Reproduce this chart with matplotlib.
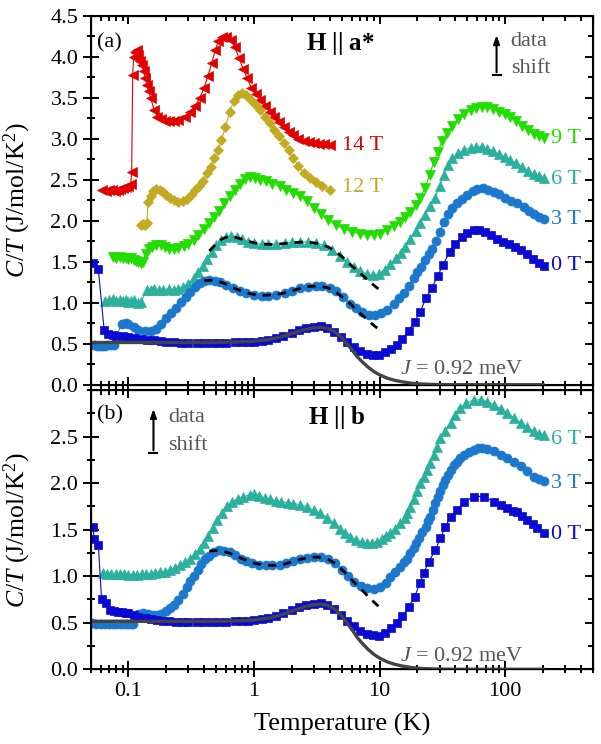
import numpy as np
import matplotlib
matplotlib.use('Agg')
import matplotlib.pyplot as plt
from matplotlib.ticker import MultipleLocator, FixedLocator, FormatStrFormatter, LogLocator, NullFormatter

plt.rcParams['font.family'] = ['Liberation Serif', 'DejaVu Serif']
plt.rcParams['mathtext.fontset'] = 'custom'
plt.rcParams['mathtext.rm'] = 'Liberation Serif'
plt.rcParams['mathtext.it'] = 'Liberation Serif:italic'
plt.rcParams['mathtext.bf'] = 'Liberation Serif:bold'

# ---- panel (a): H || a* ----
a14_T = [0.062, 0.066, 0.07, 0.074, 0.078, 0.082, 0.086, 0.09, 0.095, 0.1, 0.104, 0.106, 0.108, 0.11, 0.113,
         0.116, 0.12, 0.124, 0.128, 0.132, 0.136, 0.14, 0.145, 0.15, 0.16, 0.17, 0.18, 0.195, 0.21, 0.23, 0.25,
         0.28, 0.31, 0.34, 0.37, 0.4, 0.43, 0.46, 0.49, 0.52, 0.56, 0.6, 0.65, 0.7, 0.76, 0.82, 0.88, 0.95,
         1.03, 1.12, 1.22, 1.33, 1.45, 1.58, 1.72, 1.88, 2.05, 2.25, 2.5, 2.75, 3.0, 3.3, 3.6, 4.0]
a14_c = [2.37, 2.36, 2.37, 2.38, 2.36, 2.38, 2.39, 2.40, 2.41, 2.42, 2.45, 2.59, 3.78, 4.00, 4.06,
         4.08, 4.02, 3.95, 3.90, 3.82, 3.74, 3.66, 3.58, 3.50, 3.35, 3.27, 3.24, 3.22, 3.21, 3.21, 3.23,
         3.27, 3.33, 3.40, 3.50, 3.62, 3.77, 3.92, 4.08, 4.19, 4.24, 4.24, 4.20, 4.12, 3.98, 3.85, 3.74, 3.62,
         3.55, 3.47, 3.40, 3.33, 3.26, 3.20, 3.14, 3.08, 3.04, 3.00, 2.97, 2.955, 2.945, 2.935, 2.93, 2.925]

a12_T = [0.125, 0.13, 0.135, 0.14, 0.143, 0.15, 0.158, 0.167, 0.177, 0.188, 0.2, 0.214, 0.23, 0.25, 0.27,
         0.29, 0.315, 0.34, 0.365, 0.39, 0.42, 0.45, 0.48, 0.515, 0.55, 0.59, 0.64, 0.69, 0.74, 0.8, 0.87,
         0.95, 1.03, 1.12, 1.22, 1.33, 1.45, 1.58, 1.72, 1.88, 2.05, 2.25, 2.5, 2.8, 3.1, 3.5, 4.0]
a12_c = [1.95, 1.96, 1.95, 1.97, 2.23, 2.30, 2.36, 2.39, 2.38, 2.35, 2.31, 2.28, 2.25, 2.23, 2.24,
         2.27, 2.31, 2.37, 2.42, 2.48, 2.58, 2.66, 2.76, 2.86, 2.98, 3.14, 3.33, 3.46, 3.53, 3.56, 3.53,
         3.47, 3.41, 3.35, 3.27, 3.19, 3.11, 3.03, 2.95, 2.86, 2.76, 2.67, 2.58, 2.52, 2.47, 2.42, 2.38]

a9_T = [0.075, 0.08, 0.085, 0.09, 0.095, 0.1, 0.105, 0.11, 0.115, 0.12, 0.125, 0.13, 0.137, 0.145, 0.155,
        0.165, 0.18, 0.195, 0.21, 0.23, 0.25, 0.275, 0.3, 0.33, 0.36, 0.4, 0.44, 0.48, 0.53, 0.58, 0.64,
        0.7, 0.77, 0.85, 0.93, 1.02, 1.12, 1.25, 1.4, 1.6, 1.8, 2.05, 2.33, 2.65, 3.0, 3.4, 3.9, 4.5, 5.2,
        6.0, 7.0, 8.0, 9.0, 10, 11.4, 13, 14.6, 16, 17.6, 19.3, 21, 23, 25, 27, 29, 31.5, 34.5, 38, 42, 47,
        53, 59, 65, 72, 80, 89, 99, 110, 122, 136, 151, 168, 185, 204]
a9_c = [1.56, 1.55, 1.56, 1.54, 1.55, 1.53, 1.54, 1.52, 1.51, 1.50, 1.49, 1.50, 1.60, 1.65, 1.68,
        1.70, 1.70, 1.68, 1.66, 1.66, 1.67, 1.69, 1.72, 1.77, 1.83, 1.90, 1.97, 2.05, 2.12, 2.21, 2.30,
        2.38, 2.45, 2.51, 2.53, 2.52, 2.50, 2.48, 2.45, 2.42, 2.38, 2.34, 2.30, 2.24, 2.16, 2.08, 2.01, 1.95, 1.90,
        1.865, 1.84, 1.83, 1.826, 1.84, 1.885, 1.94, 1.99, 2.05, 2.11, 2.19, 2.28, 2.40, 2.56, 2.72, 2.84, 2.97, 3.07, 3.16, 3.24, 3.30,
        3.35, 3.38, 3.39, 3.385, 3.36, 3.33, 3.30, 3.26, 3.21, 3.16, 3.11, 3.06, 3.03, 3.005]

a6_T = [0.065, 0.07, 0.075, 0.08, 0.085, 0.09, 0.095, 0.1, 0.105, 0.11, 0.118, 0.125, 0.14, 0.15, 0.16,
        0.175, 0.19, 0.21, 0.23, 0.25, 0.27, 0.3, 0.33, 0.36, 0.39, 0.42, 0.46, 0.5, 0.55, 0.6, 0.66, 0.73,
        0.8, 0.9, 1.0, 1.15, 1.3, 1.5, 1.75, 2.0, 2.33, 2.7, 3.1, 3.6, 4.2, 4.8, 5.5, 6.2, 7.0, 7.9, 8.8,
        9.8, 11, 12.2, 13.5, 14.8, 16, 17.6, 19.3, 21, 23, 25.4, 27.5, 30, 32.5, 35, 38, 42, 47, 53, 59, 65,
        72, 80, 89, 99, 110, 122, 136, 151, 168, 185, 204]
a6_c = [1.02, 1.03, 1.04, 1.02, 1.03, 1.02, 1.03, 1.01, 1.02, 1.03, 1.00, 1.01, 1.15, 1.16, 1.17,
        1.15, 1.16, 1.17, 1.16, 1.17, 1.19, 1.23, 1.30, 1.37, 1.45, 1.53, 1.62, 1.70, 1.76, 1.80, 1.815, 1.80,
        1.78, 1.745, 1.725, 1.71, 1.71, 1.715, 1.725, 1.735, 1.74, 1.74, 1.73, 1.70, 1.64, 1.57, 1.50, 1.44, 1.39, 1.35, 1.335,
        1.35, 1.40, 1.47, 1.54, 1.61, 1.68, 1.78, 1.88, 1.97, 2.07, 2.18, 2.28, 2.42, 2.56, 2.68, 2.76, 2.82, 2.86, 2.89, 2.90, 2.90,
        2.88, 2.85, 2.81, 2.78, 2.74, 2.70, 2.66, 2.61, 2.57, 2.54, 2.517]

a3_T = [0.0535, 0.056, 0.059, 0.062, 0.065, 0.068, 0.072, 0.076, 0.088, 0.095, 0.1, 0.11, 0.12, 0.135, 0.15,
        0.165, 0.18, 0.2, 0.22, 0.24, 0.26, 0.285, 0.31, 0.34, 0.37, 0.4, 0.44, 0.49, 0.54, 0.6, 0.68, 0.77,
        0.87, 1.0, 1.15, 1.3, 1.5, 1.75, 2.0, 2.33, 2.7, 3.1, 3.5, 4.0, 4.5, 5.1, 5.8, 6.5, 7.3, 8.2, 9.2,
        10.3, 11.5, 12.9, 14.2, 15.6, 17, 18.7, 20, 21.5, 23, 24.5, 26, 28, 30, 32.5, 35, 38, 41.5, 45, 50,
        55, 60, 66, 73, 81, 90, 100, 112, 125, 140, 155, 170, 187, 204]
a3_c = [0.49, 0.475, 0.47, 0.47, 0.475, 0.48, 0.48, 0.49, 0.745, 0.75, 0.74, 0.70, 0.67, 0.65, 0.65,
        0.68, 0.74, 0.81, 0.88, 0.94, 1.01, 1.07, 1.13, 1.19, 1.235, 1.26, 1.275, 1.27, 1.255, 1.22, 1.18, 1.14,
        1.115, 1.09, 1.08, 1.085, 1.10, 1.115, 1.145, 1.175, 1.195, 1.205, 1.20, 1.175, 1.14, 1.07, 0.99, 0.93, 0.885, 0.855, 0.85,
        0.87, 0.91, 0.99, 1.06, 1.12, 1.20, 1.30, 1.38, 1.44, 1.52, 1.60, 1.66, 1.75, 1.86, 1.98, 2.08, 2.16, 2.22, 2.27, 2.31,
        2.36, 2.39, 2.395, 2.38, 2.355, 2.32, 2.28, 2.24, 2.21, 2.17, 2.12, 2.08, 2.05, 2.017]

a0_T = [0.052, 0.0575, 0.064, 0.069, 0.075, 0.08, 0.09, 0.1, 0.11, 0.125, 0.14, 0.16, 0.18, 0.2, 0.23,
        0.26, 0.3, 0.35, 0.4, 0.46, 0.53, 0.6, 0.7, 0.8, 0.9, 1.0, 1.15, 1.3, 1.5, 1.7, 2.0, 2.3, 2.6, 3.0,
        3.4, 3.8, 4.3, 4.9, 5.5, 6.2, 7.0, 7.9, 8.8, 9.8, 11, 12.3, 13.7, 15.2, 17, 19, 21, 23.5, 26, 29,
        32, 36, 40, 45, 50, 56, 62, 69, 77, 86, 96, 107, 120, 134, 150, 167, 186, 205]
a0_c = [1.48, 1.41, 0.667, 0.62, 0.61, 0.60, 0.59, 0.58, 0.57, 0.56, 0.55, 0.54, 0.53, 0.52, 0.515,
        0.51, 0.505, 0.505, 0.505, 0.51, 0.51, 0.51, 0.515, 0.515, 0.52, 0.525, 0.535, 0.55, 0.57, 0.60, 0.635, 0.665, 0.69, 0.705,
        0.71, 0.69, 0.645, 0.585, 0.52, 0.46, 0.41, 0.38, 0.365, 0.36, 0.395, 0.44, 0.49, 0.56, 0.66, 0.77, 0.89, 1.06, 1.18, 1.33,
        1.46, 1.62, 1.72, 1.80, 1.85, 1.885, 1.885, 1.866, 1.83, 1.78, 1.745, 1.71, 1.675, 1.64, 1.59, 1.53, 1.49, 1.447]

# dashed model curves on 6 T and 3 T
d6_T = [0.44, 0.5, 0.56, 0.63, 0.7, 0.8, 0.9, 1.0, 1.2, 1.4, 1.7, 2.0, 2.4, 2.8, 3.3, 3.9, 4.5, 5.2, 6.0, 7.0, 8.0, 9.2, 10.5]
d6_c = [1.63, 1.72, 1.78, 1.81, 1.80, 1.775, 1.75, 1.73, 1.715, 1.71, 1.72, 1.73, 1.74, 1.735, 1.72, 1.68, 1.62, 1.54, 1.45, 1.36, 1.28, 1.20, 1.13]
d3_T = [0.4, 0.45, 0.5, 0.56, 0.63, 0.7, 0.8, 0.9, 1.0, 1.2, 1.4, 1.7, 2.0, 2.4, 2.8, 3.3, 3.9, 4.5, 5.2, 6.0, 7.0, 8.0, 9.2, 10.5]
d3_c = [1.27, 1.275, 1.265, 1.245, 1.21, 1.175, 1.14, 1.115, 1.10, 1.09, 1.095, 1.115, 1.145, 1.18, 1.20, 1.205, 1.18, 1.13, 1.05, 0.97, 0.87, 0.79, 0.71, 0.65]

# J = 0.92 meV model (solid grey)
fit_T = [0.05, 0.1, 0.2, 0.4, 0.7, 1.0, 1.3, 1.6, 2.0, 2.5, 3.0, 3.4, 3.9, 4.4, 4.9, 5.4, 6.0, 6.6, 7.2, 8.0,
         9.0, 10, 11.5, 13, 15, 18, 22, 28, 40, 200]
fit_c = [0.515, 0.515, 0.515, 0.515, 0.52, 0.53, 0.55, 0.58, 0.625, 0.67, 0.695, 0.70, 0.685, 0.645, 0.585, 0.51, 0.43, 0.345, 0.285, 0.22,
         0.16, 0.12, 0.08, 0.056, 0.036, 0.018, 0.008, 0.003, 0.0, 0.0]

# ---- panel (b): H || b ----
b6_T = [0.063, 0.068, 0.073, 0.079, 0.085, 0.092, 0.1, 0.108, 0.117, 0.127, 0.138, 0.15, 0.163, 0.178, 0.195,
        0.215, 0.235, 0.257, 0.28, 0.31, 0.34, 0.37, 0.4, 0.43, 0.47, 0.51, 0.56, 0.61, 0.67, 0.74, 0.82, 0.92,
        1.0, 1.1, 1.22, 1.35, 1.5, 1.65, 1.85, 2.05, 2.33, 2.65, 3.0, 3.36, 3.8, 4.3, 4.8, 5.3, 5.83, 6.5,
        7.2, 7.94, 8.7, 9.5, 10.5, 11.3, 12.2, 13.3, 14.6, 15.8, 16.6, 17.6, 18.7, 19.8, 21.1, 22.4, 23.8,
        25.4, 27, 28.7, 30.5, 33, 36.7, 40, 44, 49, 56, 63.7, 72, 81.3, 92, 104, 118, 133, 150, 170, 187, 204]
b6_c = [1.03, 1.02, 1.02, 1.02, 1.02, 1.02, 1.015, 1.015, 1.015, 1.02, 1.02, 1.02, 1.03, 1.04, 1.05,
        1.07, 1.09, 1.12, 1.15, 1.19, 1.24, 1.29, 1.36, 1.43, 1.52, 1.60, 1.68, 1.75, 1.80, 1.83, 1.85, 1.875,
        1.88, 1.86, 1.84, 1.825, 1.81, 1.80, 1.79, 1.78, 1.767, 1.74, 1.71, 1.677, 1.63, 1.57, 1.51, 1.46, 1.426, 1.39,
        1.365, 1.355, 1.355, 1.372, 1.40, 1.43, 1.462, 1.51, 1.57, 1.63, 1.68, 1.748, 1.83, 1.91, 2.0, 2.07, 2.14,
        2.215, 2.30, 2.39, 2.484, 2.56, 2.645, 2.73, 2.806, 2.86, 2.89, 2.896, 2.875, 2.842, 2.80, 2.753, 2.70, 2.645, 2.60, 2.555, 2.53, 2.52]

b3_T = [0.051, 0.055, 0.06, 0.065, 0.07, 0.075, 0.08, 0.085, 0.09, 0.095, 0.1, 0.105, 0.109, 0.119, 0.13,
        0.143, 0.157, 0.17, 0.183, 0.2, 0.215, 0.23, 0.25, 0.27, 0.29, 0.31, 0.33, 0.355, 0.38, 0.41, 0.44,
        0.48, 0.53, 0.58, 0.64, 0.7, 0.78, 0.87, 0.97, 1.1, 1.25, 1.4, 1.6, 1.8, 2.05, 2.33, 2.65, 3.0, 3.4,
        3.9, 4.4, 5.0, 5.6, 6.3, 7.1, 8.0, 9.0, 10.1, 11.2, 12.2, 13.3, 14.6, 15.6, 16.5, 17.6, 18.7, 19.6,
        20.5, 21.8, 23.2, 24.3, 25.4, 26.6, 27.8, 29.1, 30.5, 32, 33.4, 35, 36.7, 39, 41.4, 44, 46.9, 51,
        56.3, 61, 65.4, 72, 81, 92, 104, 117, 133, 150, 170, 187, 204]
b3_c = [0.495, 0.49, 0.49, 0.49, 0.49, 0.49, 0.49, 0.49, 0.49, 0.49, 0.49, 0.49, 0.49, 0.595, 0.60,
        0.59, 0.584, 0.585, 0.595, 0.63, 0.66, 0.69, 0.74, 0.81, 0.88, 0.95, 1.0, 1.07, 1.13, 1.18, 1.22,
        1.265, 1.28, 1.275, 1.255, 1.23, 1.19, 1.165, 1.14, 1.12, 1.115, 1.115, 1.12, 1.14, 1.16, 1.18, 1.20, 1.21, 1.205,
        1.18, 1.14, 1.07, 1.0, 0.94, 0.90, 0.875, 0.865, 0.88, 0.93, 0.995, 1.05, 1.10, 1.15, 1.19, 1.25, 1.30, 1.355,
        1.41, 1.47, 1.533, 1.59, 1.64, 1.71, 1.785, 1.85, 1.91, 1.975, 2.035, 2.09, 2.143, 2.19, 2.232, 2.27, 2.304, 2.335,
        2.358, 2.372, 2.376, 2.365, 2.34, 2.305, 2.27, 2.225, 2.18, 2.125, 2.07, 2.04, 2.02]

b0_T = [0.0525, 0.053, 0.0575, 0.061, 0.0665, 0.071, 0.076, 0.082, 0.088, 0.095, 0.1, 0.11, 0.12, 0.135, 0.15,
        0.17, 0.19, 0.21, 0.24, 0.27, 0.3, 0.35, 0.4, 0.46, 0.53, 0.6, 0.7, 0.8, 0.9, 1.0, 1.15, 1.3, 1.5,
        1.7, 2.0, 2.3, 2.6, 3.0, 3.4, 3.8, 4.3, 4.9, 5.5, 6.2, 7.0, 7.9, 8.8, 9.8, 11, 12.3, 13.7, 15.2, 17,
        19, 21, 22.4, 24.6, 27.8, 30.5, 33.4, 36.7, 41.4, 46.9, 56.3, 67.9, 81, 93, 104, 115, 125, 137, 150,
        165, 180, 204]
b0_c = [1.53, 1.40, 1.34, 0.76, 0.71, 0.64, 0.625, 0.62, 0.615, 0.61, 0.60, 0.585, 0.565, 0.55, 0.54,
        0.53, 0.52, 0.515, 0.51, 0.505, 0.505, 0.505, 0.505, 0.51, 0.51, 0.51, 0.515, 0.515, 0.52, 0.525, 0.535, 0.55, 0.57,
        0.60, 0.635, 0.665, 0.69, 0.705, 0.71, 0.69, 0.645, 0.585, 0.52, 0.46, 0.41, 0.38, 0.365, 0.36, 0.39, 0.44, 0.50, 0.57, 0.67,
        0.78, 0.93, 1.03, 1.157, 1.283, 1.408, 1.533, 1.64, 1.713, 1.80, 1.856, 1.856, 1.80, 1.76, 1.73, 1.70, 1.69, 1.65, 1.605,
        1.56, 1.516, 1.462]

db3_T = [0.44, 0.5, 0.56, 0.63, 0.7, 0.8, 0.9, 1.0, 1.2, 1.4, 1.7, 2.0, 2.4, 2.8, 3.3, 3.9, 4.5, 5.2, 6.0, 7.0, 8.0, 9.2, 10.5]
db3_c = [1.27, 1.275, 1.27, 1.25, 1.225, 1.19, 1.16, 1.14, 1.12, 1.115, 1.125, 1.155, 1.185, 1.205, 1.205, 1.18, 1.13, 1.05, 0.96, 0.87, 0.79, 0.71, 0.64]

yticks_a = [0.0, 0.5, 1.0, 1.5, 2.0, 2.5, 3.0, 3.5, 4.0, 4.5]
yticks_b = [0.0, 0.5, 1.0, 1.5, 2.0, 2.5]

c14 = '#e00000'
c12 = '#c2aa22'
c9 = '#22dd00'
c6 = '#2ab09c'
c3 = '#1b78cc'
c0 = '#0a0ad2'
cfit = '#444444'
ctext = '#555555'

fig = plt.figure(figsize=(6.01, 7.44), dpi=100)
axa = fig.add_axes([0.1509, 0.4829, 0.8358, 0.4960])
axb = fig.add_axes([0.1509, 0.1004, 0.8358, 0.3754])


def series(ax, T, c, color, marker, ms):
    ax.plot(T, c, color=color, lw=0.8, marker=marker, ms=ms, mec=color, mfc=color, mew=0.5)


# panel a
series(axa, a14_T, a14_c, c14, '<', 7)
series(axa, a12_T, a12_c, c12, 'D', 5.5)
series(axa, a9_T, a9_c, c9, 'v', 7)
series(axa, a6_T, a6_c, c6, '^', 7)
series(axa, a3_T, a3_c, c3, 'o', 6.5)
series(axa, a0_T, a0_c, c0, 's', 5.5)
axa.plot(fit_T, fit_c, color=cfit, lw=2.4, zorder=5)
axa.plot(d6_T, d6_c, color='black', lw=2, ls=(0, (3, 2.5)), zorder=6)
axa.plot(d3_T, d3_c, color='black', lw=2, ls=(0, (3, 2.5)), zorder=6)

# panel b
series(axb, b6_T, b6_c, c6, '^', 7)
series(axb, b3_T, b3_c, c3, 'o', 6.5)
series(axb, b0_T, b0_c, c0, 's', 5.5)
axb.plot(fit_T, fit_c, color=cfit, lw=2.4, zorder=5)
axb.plot(db3_T, db3_c, color='black', lw=2, ls=(0, (3, 2.5)), zorder=6)

fs = 16
for ax, ytop, yt in [(axa, 4.5, yticks_a), (axb, 3.0, yticks_b)]:
    ax.set_xscale('log')
    ax.set_xlim(0.05, 500)
    ax.set_ylim(0, ytop)
    ax.yaxis.set_major_locator(FixedLocator(yt))
    ax.yaxis.set_minor_locator(MultipleLocator(0.25))
    ax.yaxis.set_major_formatter(FormatStrFormatter('%.1f'))
    ax.xaxis.set_major_locator(LogLocator(base=10, numticks=10))
    ax.xaxis.set_minor_locator(LogLocator(base=10, subs=np.arange(2, 10), numticks=20))
    ax.xaxis.set_minor_formatter(NullFormatter())
    ax.tick_params(which='both', direction='inout', top=False, right=False, width=1.4, labelsize=fs)
    ax.tick_params(which='major', length=11)
    ax.tick_params(which='minor', length=6)
    for s in ax.spines.values():
        s.set_linewidth(1.5)
    ax.set_ylabel(r'$C/T$ (J/mol/K$^2$)', fontsize=18.5)
    ax.yaxis.set_label_coords(-0.115, 0.5)
    # inward ticks on the right and top
    tx = ax.twinx()
    tx.set_ylim(0, ytop)
    tx.yaxis.set_major_locator(MultipleLocator(0.5))
    tx.yaxis.set_minor_locator(MultipleLocator(0.25))
    tx.tick_params(which='both', direction='in', labelright=False, width=1.4)
    tx.tick_params(which='major', length=6)
    tx.tick_params(which='minor', length=3.5)
    ty = ax.twiny()
    ty.set_xscale('log')
    ty.set_xlim(0.05, 500)
    ty.xaxis.set_major_locator(LogLocator(base=10, numticks=10))
    ty.xaxis.set_minor_locator(LogLocator(base=10, subs=np.arange(2, 10), numticks=20))
    ty.tick_params(which='both', direction='in', labeltop=False, width=1.4)
    ty.tick_params(which='major', length=6)
    ty.tick_params(which='minor', length=3.5)

axa.set_xticks([0.1, 1, 10, 100])
axa.tick_params(labelbottom=False)
axb.set_xticks([0.1, 1, 10, 100])
axb.set_xticklabels(['0.1', '1', '10', '100'])
axb.set_xlabel('Temperature (K)', fontsize=19, labelpad=9)

# annotations panel a
axa.text(0.012, 0.926, '(a)', transform=axa.transAxes, fontsize=fs, va='center', ha='left')
axa.text(0.498, 0.926, r'$\mathbf{H}$ || $\mathbf{a}$*', transform=axa.transAxes, fontsize=18,
         va='center', ha='center', fontweight='bold')
axa.annotate('', xy=(0.808, 0.955), xytext=(0.808, 0.839), xycoords='axes fraction',
             arrowprops=dict(arrowstyle='-|>,head_length=0.5,head_width=0.18', color='black', lw=1.5))
axa.plot([0.800, 0.816], [0.839, 0.839], transform=axa.transAxes, color='black', lw=1.5)
axa.text(0.836, 0.931, 'data', transform=axa.transAxes, fontsize=fs, color=ctext, va='center')
axa.text(0.836, 0.856, 'shift', transform=axa.transAxes, fontsize=fs, color=ctext, va='center')
axa.text(5.0, 2.92, '14 T', color=c14, fontsize=fs, va='center')
axa.text(5.0, 2.40, '12 T', color=c12, fontsize=fs, va='center')
axa.text(230, 3.00, '9 T', color=c9, fontsize=fs, va='center')
axa.text(230, 2.50, '6 T', color=c6, fontsize=fs, va='center')
axa.text(230, 2.01, '3 T', color=c3, fontsize=fs, va='center')
axa.text(230, 1.45, '0 T', color=c0, fontsize=fs, va='center')
axa.text(14.6, 0.19, r'$J$ = 0.92 meV', color=ctext, fontsize=fs, va='center')

# annotations panel b
axb.text(0.012, 0.91, '(b)', transform=axb.transAxes, fontsize=fs, va='center', ha='left')
axb.text(0.49, 0.90, r'$\mathbf{H}$ || $\mathbf{b}$', transform=axb.transAxes, fontsize=18,
         va='center', ha='center', fontweight='bold')
axb.annotate('', xy=(0.125, 0.942), xytext=(0.125, 0.774), xycoords='axes fraction',
             arrowprops=dict(arrowstyle='-|>,head_length=0.5,head_width=0.18', color='black', lw=1.5))
axb.plot([0.117, 0.133], [0.774, 0.774], transform=axb.transAxes, color='black', lw=1.5)
axb.text(0.154, 0.90, 'data', transform=axb.transAxes, fontsize=fs, color=ctext, va='center')
axb.text(0.154, 0.803, 'shift', transform=axb.transAxes, fontsize=fs, color=ctext, va='center')
axb.text(230, 2.466, '6 T', color=c6, fontsize=fs, va='center')
axb.text(230, 2.0, '3 T', color=c3, fontsize=fs, va='center')
axb.text(230, 1.444, '0 T', color=c0, fontsize=fs, va='center')
axb.text(14.6, 0.14, r'$J$ = 0.92 meV', color=ctext, fontsize=fs, va='center')

fig.savefig('out.png', dpi=100)
